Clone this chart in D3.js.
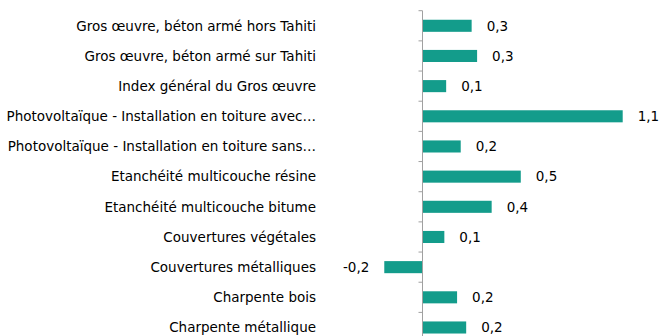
<!DOCTYPE html>
<html>
<head>
<meta charset="utf-8">
<script src="https://cdn.jsdelivr.net/npm/d3@7"></script>
<style>
  html, body { margin: 0; padding: 0; background: #fff; }
  svg { display: block; }
  text { font-family: "DejaVu Sans", sans-serif; fill: #000; }
</style>
</head>
<body>
<svg id="chart" width="660" height="336"></svg>
<script>
// Indices: variation (%) par poste
const categories = [
  "Gros œuvre, béton armé hors Tahiti",
  "Gros œuvre, béton armé sur Tahiti",
  "Index général du Gros œuvre",
  "Photovoltaïque - Installation en toiture avec…",
  "Photovoltaïque - Installation en toiture sans…",
  "Etanchéité multicouche résine",
  "Etanchéité multicouche bitume",
  "Couvertures végétales",
  "Couvertures métalliques",
  "Charpente bois",
  "Charpente métallique"
];
const values = [0.27, 0.30, 0.13, 1.10, 0.21, 0.54, 0.38, 0.12, -0.21, 0.19, 0.24];

const svg = d3.select("#chart");

const x = d3.scaleLinear().domain([-0.4, 1.2]).range([349.7, 640.9]);
const y = d3.scaleBand().domain(categories)
  .range([10.7, 10.7 + 11 * 30.17])
  .paddingInner(0.6).paddingOuter(0.3);

const fmt = v => d3.format(".1f")(v).replace(".", ",").replace("−", "-");

// Bars
svg.append("g").selectAll("rect").data(values).join("rect")
  .attr("x", d => x(Math.min(0, d)))
  .attr("y", (d, i) => y(categories[i]))
  .attr("width", d => Math.abs(x(d) - x(0)))
  .attr("height", y.bandwidth())
  .attr("fill", "#139c8b");

// Axis line with ticks between categories
const x0 = x(0);
const gap = (y.step() - y.bandwidth()) / 2;
const axis = svg.append("g").attr("stroke", "#a0a0a0").attr("stroke-width", 1);
axis.append("line")
  .attr("x1", x0).attr("x2", x0)
  .attr("y1", y.range()[0]).attr("y2", y.range()[1]);
const bounds = categories.map(c => y(c) - gap).concat([y.range()[1]]);
axis.selectAll("line.tick").data(bounds).join("line")
  .attr("class", "tick")
  .attr("x1", x0 - 4).attr("x2", x0)
  .attr("y1", d => d).attr("y2", d => d);

// Category labels
svg.append("g").selectAll("text").data(categories).join("text")
  .attr("x", 316)
  .attr("y", d => y(d) + y.bandwidth() / 2)
  .attr("dy", "0.35em")
  .attr("text-anchor", "end")
  .attr("font-size", 13.5)
  .text(d => d);

// Value labels
svg.append("g").selectAll("text").data(values).join("text")
  .attr("x", d => d >= 0 ? x(d) + 15 : x(d) - 15)
  .attr("y", (d, i) => y(categories[i]) + y.bandwidth() / 2)
  .attr("dy", "0.35em")
  .attr("text-anchor", d => d >= 0 ? "start" : "end")
  .attr("font-size", 13.5)
  .text(d => fmt(d));
</script>
</body>
</html>
